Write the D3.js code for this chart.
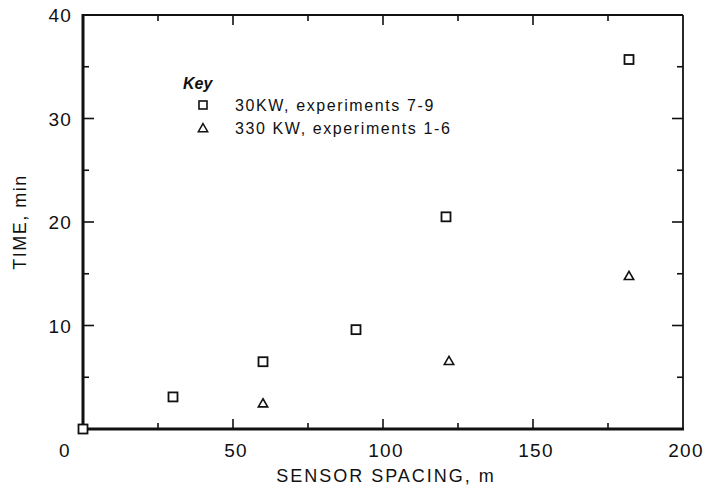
<!DOCTYPE html>
<meta charset="utf-8">
<style>
  body { margin: 0; background: #fff; }
  svg text { font-family: "Liberation Sans", Arial, sans-serif; fill: #111; }
</style>
<script src="https://d3js.org/d3.v7.min.js"></script>
<body>
<svg id="chart" width="709" height="495"></svg>
<script>
  // data
  var squareX = [0, 30, 60, 91, 121, 182];
  var squareY = [0, 3.1, 6.5, 9.6, 20.5, 35.7];
  var triangleX = [60, 122, 182];
  var triangleY = [2.4, 6.5, 14.7];
  var xTicks = [0, 50, 100, 150, 200];
  var yTicks = [10, 20, 30, 40];
  var legendLabels = ["30KW, experiments 7-9", "330 KW, experiments 1-6"];

  var svg = d3.select("#chart");
  var plotLeft = 83, plotRight = 683, plotTop = 15, plotBottom = 429;

  var x = d3.scaleLinear().domain([0, 200]).range([plotLeft, plotRight]);
  var y = d3.scaleLinear().domain([0, 40]).range([plotBottom, plotTop]);

  var minorX = d3.range(0, 201, 25);
  var minorY = d3.range(0, 41, 5);

  // ticks pointing inward
  var g = svg.append("g").attr("stroke", "#111").attr("fill", "none");
  minorX.forEach(function(v) {
    var len = v % 50 === 0 ? 10 : 6;
    if (v > 0 && v < 200) {
      g.append("line").attr("x1", x(v)).attr("x2", x(v)).attr("y1", plotBottom).attr("y2", plotBottom - len).attr("stroke-width", 1.6);
      g.append("line").attr("x1", x(v)).attr("x2", x(v)).attr("y1", plotTop).attr("y2", plotTop + len).attr("stroke-width", 1.6);
    }
  });
  minorY.forEach(function(v) {
    var len = v % 10 === 0 ? 11 : 6;
    if (v > 0 && v < 40) {
      g.append("line").attr("y1", y(v)).attr("y2", y(v)).attr("x1", plotLeft).attr("x2", plotLeft + len).attr("stroke-width", 1.6);
      g.append("line").attr("y1", y(v)).attr("y2", y(v)).attr("x1", plotRight).attr("x2", plotRight - len).attr("stroke-width", 1.6);
    }
  });

  // frame
  g.append("line").attr("x1", plotLeft).attr("x2", plotRight).attr("y1", plotTop).attr("y2", plotTop).attr("stroke-width", 1.8);
  g.append("line").attr("x1", plotRight).attr("x2", plotRight).attr("y1", plotTop).attr("y2", plotBottom).attr("stroke-width", 1.8);
  g.append("line").attr("x1", plotLeft).attr("x2", plotRight + 1).attr("y1", plotBottom).attr("y2", plotBottom).attr("stroke-width", 3);
  g.append("line").attr("x1", plotLeft).attr("x2", plotLeft).attr("y1", plotTop - 1).attr("y2", plotBottom + 1).attr("stroke-width", 3);

  // tick labels
  svg.selectAll(".xl").data(xTicks).enter().append("text")
    .attr("x", function(d) { return d === 0 ? x(d) - 18 : x(d) + 3; })
    .attr("y", 457)
    .attr("text-anchor", "middle")
    .style("font-size", "19px")
    .style("letter-spacing", "1.2px")
    .text(function(d) { return d; });

  svg.selectAll(".yl").data(yTicks).enter().append("text")
    .attr("x", 72)
    .attr("y", function(d) { return y(d) + 7; })
    .attr("text-anchor", "end")
    .style("font-size", "19px")
    .style("letter-spacing", "1.2px")
    .text(function(d) { return d; });

  // axis titles
  svg.append("text").attr("x", 386).attr("y", 482).attr("text-anchor", "middle")
    .style("font-size", "18px").style("letter-spacing", "2px").text("SENSOR SPACING, m");
  svg.append("text").attr("transform", "translate(26,222) rotate(-90)").attr("text-anchor", "middle")
    .style("font-size", "18px").style("letter-spacing", "1.5px").text("TIME, min");

  // markers
  var sq = 9;
  svg.selectAll(".sq").data(squareX).enter().append("rect")
    .attr("x", function(d) { return x(d) - sq / 2; })
    .attr("y", function(d, i) { return y(squareY[i]) - sq / 2; })
    .attr("width", sq).attr("height", sq)
    .attr("fill", "#fff").attr("stroke", "#111").attr("stroke-width", 1.8);

  var tri = d3.symbol().type(d3.symbolTriangle).size(38);
  svg.selectAll(".tri").data(triangleX).enter().append("path")
    .attr("d", tri)
    .attr("transform", function(d, i) { return "translate(" + x(d) + "," + y(triangleY[i]) + ")"; })
    .attr("fill", "none").attr("stroke", "#111").attr("stroke-width", 1.6);

  // legend
  svg.append("text").attr("x", 183).attr("y", 89)
    .style("font-size", "16px").style("font-style", "italic").style("font-weight", "bold").text("Key");
  svg.append("rect").attr("x", 199).attr("y", 101).attr("width", 8).attr("height", 8)
    .attr("fill", "none").attr("stroke", "#111").attr("stroke-width", 1.6);
  svg.append("path").attr("d", tri).attr("transform", "translate(203,129)")
    .attr("fill", "none").attr("stroke", "#111").attr("stroke-width", 1.5);
  legendLabels.forEach(function(t, i) {
    svg.append("text").attr("x", 235).attr("y", 111 + i * 23)
      .style("font-size", "16px").style("letter-spacing", "1.6px").text(t);
  });
</script>
</body>
